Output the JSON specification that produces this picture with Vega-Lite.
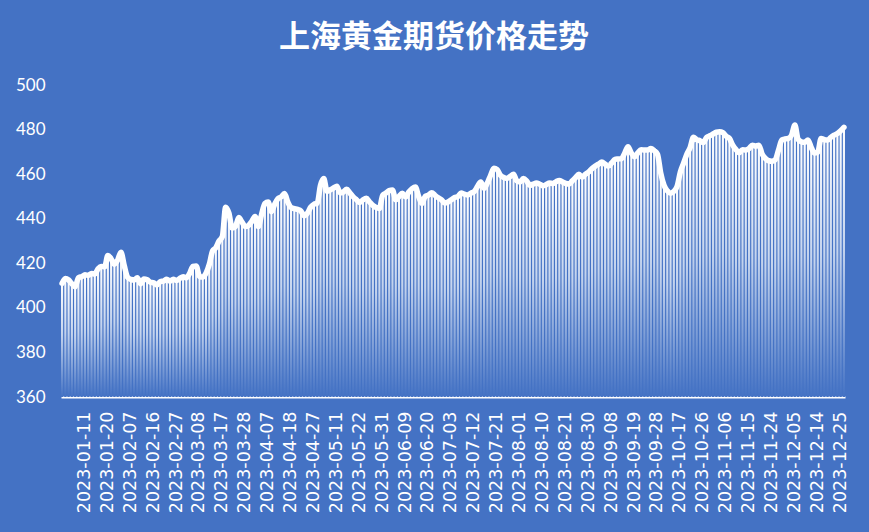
{
  "$schema": "https://vega.github.io/schema/vega-lite/v6.json",
  "autosize": "none",
  "width": 784,
  "height": 312,
  "padding": {"left": 61, "top": 85, "right": 24, "bottom": 135},
  "background": "#4472C4",
  "config": {"view": {"stroke": null}},
  "title": {
    "text": "上海黄金期货价格走势",
    "font": "Noto Sans CJK SC",
    "fontSize": 31,
    "fontWeight": "bold",
    "color": "#ffffff",
    "anchor": "middle",
    "dx": -19,
    "offset": 22
  },
  "data": {"values": [
    {"d":"2022-12-30","v":411.0},{"d":"2023-01-03","v":413.2},{"d":"2023-01-04","v":412.5},{"d":"2023-01-05","v":410.8},{"d":"2023-01-06","v":409.5},
    {"d":"2023-01-09","v":413.5},{"d":"2023-01-10","v":414.0},{"d":"2023-01-11","v":414.8},{"d":"2023-01-12","v":414.6},{"d":"2023-01-13","v":415.4},
    {"d":"2023-01-16","v":415.2},{"d":"2023-01-17","v":417.5},{"d":"2023-01-18","v":418.6},{"d":"2023-01-19","v":418.4},{"d":"2023-01-20","v":423.5},
    {"d":"2023-01-30","v":422.0},{"d":"2023-01-31","v":419.6},{"d":"2023-02-01","v":421.5},{"d":"2023-02-02","v":425.0},{"d":"2023-02-03","v":419.0},
    {"d":"2023-02-06","v":413.8},{"d":"2023-02-07","v":412.8},{"d":"2023-02-08","v":412.5},{"d":"2023-02-09","v":413.5},{"d":"2023-02-10","v":410.8},
    {"d":"2023-02-13","v":413.0},{"d":"2023-02-14","v":412.6},{"d":"2023-02-15","v":411.5},{"d":"2023-02-16","v":411.2},{"d":"2023-02-17","v":410.3},
    {"d":"2023-02-20","v":411.8},{"d":"2023-02-21","v":412.0},{"d":"2023-02-22","v":412.8},{"d":"2023-02-23","v":412.0},{"d":"2023-02-24","v":412.8},
    {"d":"2023-02-27","v":412.3},{"d":"2023-02-28","v":413.2},{"d":"2023-03-01","v":414.0},{"d":"2023-03-02","v":413.5},{"d":"2023-03-03","v":415.5},
    {"d":"2023-03-06","v":418.6},{"d":"2023-03-07","v":418.8},{"d":"2023-03-08","v":414.2},{"d":"2023-03-09","v":413.8},{"d":"2023-03-10","v":415.5},
    {"d":"2023-03-13","v":419.5},{"d":"2023-03-14","v":425.5},{"d":"2023-03-15","v":427.0},{"d":"2023-03-16","v":430.0},{"d":"2023-03-17","v":432.0},
    {"d":"2023-03-20","v":445.2},{"d":"2023-03-21","v":442.5},{"d":"2023-03-22","v":435.8},{"d":"2023-03-23","v":436.5},{"d":"2023-03-24","v":440.5},
    {"d":"2023-03-27","v":438.5},{"d":"2023-03-28","v":436.5},{"d":"2023-03-29","v":437.0},{"d":"2023-03-30","v":438.8},{"d":"2023-03-31","v":441.0},
    {"d":"2023-04-03","v":436.5},{"d":"2023-04-04","v":442.0},{"d":"2023-04-06","v":446.8},{"d":"2023-04-07","v":447.5},{"d":"2023-04-10","v":443.2},
    {"d":"2023-04-11","v":446.5},{"d":"2023-04-12","v":449.0},{"d":"2023-04-13","v":449.8},{"d":"2023-04-14","v":451.3},{"d":"2023-04-17","v":447.5},
    {"d":"2023-04-18","v":445.0},{"d":"2023-04-19","v":444.5},{"d":"2023-04-20","v":444.2},{"d":"2023-04-21","v":443.5},{"d":"2023-04-24","v":441.3},
    {"d":"2023-04-25","v":442.5},{"d":"2023-04-26","v":445.2},{"d":"2023-04-27","v":446.5},{"d":"2023-04-28","v":447.0},{"d":"2023-05-04","v":455.0},
    {"d":"2023-05-05","v":458.0},{"d":"2023-05-08","v":452.3},{"d":"2023-05-09","v":453.0},{"d":"2023-05-10","v":453.8},{"d":"2023-05-11","v":454.6},
    {"d":"2023-05-12","v":451.6},{"d":"2023-05-15","v":452.0},{"d":"2023-05-16","v":453.2},{"d":"2023-05-17","v":451.5},{"d":"2023-05-18","v":449.8},
    {"d":"2023-05-19","v":448.5},{"d":"2023-05-22","v":447.3},{"d":"2023-05-23","v":448.5},{"d":"2023-05-24","v":449.2},{"d":"2023-05-25","v":447.5},
    {"d":"2023-05-26","v":446.0},{"d":"2023-05-29","v":445.0},{"d":"2023-05-30","v":444.6},{"d":"2023-05-31","v":450.5},{"d":"2023-06-01","v":451.5},
    {"d":"2023-06-02","v":452.6},{"d":"2023-06-05","v":452.9},{"d":"2023-06-06","v":448.5},{"d":"2023-06-07","v":450.0},{"d":"2023-06-08","v":451.4},
    {"d":"2023-06-09","v":449.8},{"d":"2023-06-12","v":452.0},{"d":"2023-06-13","v":453.5},{"d":"2023-06-14","v":454.2},{"d":"2023-06-15","v":450.0},
    {"d":"2023-06-16","v":446.8},{"d":"2023-06-19","v":450.0},{"d":"2023-06-20","v":450.6},{"d":"2023-06-21","v":451.7},{"d":"2023-06-26","v":450.5},
    {"d":"2023-06-27","v":449.4},{"d":"2023-06-28","v":448.5},{"d":"2023-06-29","v":447.0},{"d":"2023-06-30","v":447.5},{"d":"2023-07-03","v":448.5},
    {"d":"2023-07-04","v":449.5},{"d":"2023-07-05","v":450.0},{"d":"2023-07-06","v":451.5},{"d":"2023-07-07","v":451.0},{"d":"2023-07-10","v":450.6},
    {"d":"2023-07-11","v":451.5},{"d":"2023-07-12","v":452.2},{"d":"2023-07-13","v":454.5},{"d":"2023-07-14","v":456.5},{"d":"2023-07-17","v":453.6},
    {"d":"2023-07-18","v":456.0},{"d":"2023-07-19","v":459.5},{"d":"2023-07-20","v":462.6},{"d":"2023-07-21","v":462.0},{"d":"2023-07-24","v":459.5},
    {"d":"2023-07-25","v":458.5},{"d":"2023-07-26","v":458.1},{"d":"2023-07-27","v":459.0},{"d":"2023-07-28","v":460.0},{"d":"2023-07-31","v":457.0},
    {"d":"2023-08-01","v":456.5},{"d":"2023-08-02","v":458.0},{"d":"2023-08-03","v":457.0},{"d":"2023-08-04","v":455.0},{"d":"2023-08-07","v":455.5},
    {"d":"2023-08-08","v":456.0},{"d":"2023-08-09","v":455.5},{"d":"2023-08-10","v":454.8},{"d":"2023-08-11","v":455.3},{"d":"2023-08-14","v":456.0},
    {"d":"2023-08-15","v":455.8},{"d":"2023-08-16","v":456.6},{"d":"2023-08-17","v":457.2},{"d":"2023-08-18","v":456.5},{"d":"2023-08-21","v":455.8},
    {"d":"2023-08-22","v":455.6},{"d":"2023-08-23","v":457.0},{"d":"2023-08-24","v":458.5},{"d":"2023-08-25","v":460.0},{"d":"2023-08-28","v":458.6},
    {"d":"2023-08-29","v":460.0},{"d":"2023-08-30","v":461.0},{"d":"2023-08-31","v":462.5},{"d":"2023-09-01","v":463.6},{"d":"2023-09-04","v":464.5},
    {"d":"2023-09-05","v":465.5},{"d":"2023-09-06","v":464.5},{"d":"2023-09-07","v":463.6},{"d":"2023-09-08","v":465.0},{"d":"2023-09-11","v":466.6},
    {"d":"2023-09-12","v":466.8},{"d":"2023-09-13","v":467.0},{"d":"2023-09-14","v":469.5},{"d":"2023-09-15","v":472.3},{"d":"2023-09-18","v":469.5},
    {"d":"2023-09-19","v":467.8},{"d":"2023-09-20","v":469.5},{"d":"2023-09-21","v":471.0},{"d":"2023-09-22","v":470.8},{"d":"2023-09-25","v":470.8},
    {"d":"2023-09-26","v":471.5},{"d":"2023-09-27","v":470.5},{"d":"2023-09-28","v":469.0},{"d":"2023-10-09","v":460.5},{"d":"2023-10-10","v":455.0},
    {"d":"2023-10-11","v":452.5},{"d":"2023-10-12","v":451.4},{"d":"2023-10-13","v":452.3},{"d":"2023-10-16","v":454.5},{"d":"2023-10-17","v":461.0},
    {"d":"2023-10-18","v":465.0},{"d":"2023-10-19","v":469.0},{"d":"2023-10-20","v":472.0},{"d":"2023-10-23","v":476.5},{"d":"2023-10-24","v":475.5},
    {"d":"2023-10-25","v":475.0},{"d":"2023-10-26","v":474.2},{"d":"2023-10-27","v":476.5},{"d":"2023-10-30","v":477.2},{"d":"2023-10-31","v":478.0},
    {"d":"2023-11-01","v":478.8},{"d":"2023-11-02","v":479.0},{"d":"2023-11-03","v":478.6},{"d":"2023-11-06","v":477.0},{"d":"2023-11-07","v":476.0},
    {"d":"2023-11-08","v":473.0},{"d":"2023-11-09","v":471.0},{"d":"2023-11-10","v":469.6},{"d":"2023-11-13","v":471.0},{"d":"2023-11-14","v":470.8},
    {"d":"2023-11-15","v":471.5},{"d":"2023-11-16","v":473.0},{"d":"2023-11-17","v":472.6},{"d":"2023-11-20","v":473.0},{"d":"2023-11-21","v":469.0},
    {"d":"2023-11-22","v":467.0},{"d":"2023-11-23","v":466.0},{"d":"2023-11-24","v":465.8},{"d":"2023-11-27","v":466.5},{"d":"2023-11-28","v":470.8},
    {"d":"2023-11-29","v":475.3},{"d":"2023-11-30","v":475.8},{"d":"2023-12-01","v":476.0},{"d":"2023-12-04","v":477.5},{"d":"2023-12-05","v":482.0},
    {"d":"2023-12-06","v":475.6},{"d":"2023-12-07","v":474.5},{"d":"2023-12-08","v":474.3},{"d":"2023-12-11","v":475.3},{"d":"2023-12-12","v":472.0},
    {"d":"2023-12-13","v":469.5},{"d":"2023-12-14","v":469.8},{"d":"2023-12-15","v":476.0},{"d":"2023-12-18","v":475.5},{"d":"2023-12-19","v":475.3},
    {"d":"2023-12-20","v":476.5},{"d":"2023-12-21","v":477.5},{"d":"2023-12-22","v":478.2},{"d":"2023-12-25","v":479.5},{"d":"2023-12-26","v":481.0}
  ]},
  "encoding": {
    "x": {
      "field": "d",
      "type": "ordinal",
      "sort": null,
      "scale": {"paddingInner": 0.35, "paddingOuter": 0},
      "axis": {
        "title": null,
        "values": ["2023-01-11","2023-01-20","2023-02-07","2023-02-16","2023-02-27","2023-03-08","2023-03-17","2023-03-28","2023-04-07","2023-04-18","2023-04-27","2023-05-11","2023-05-22","2023-05-31","2023-06-09","2023-06-20","2023-07-03","2023-07-12","2023-07-21","2023-08-01","2023-08-10","2023-08-21","2023-08-30","2023-09-08","2023-09-19","2023-09-28","2023-10-17","2023-10-26","2023-11-06","2023-11-15","2023-11-24","2023-12-05","2023-12-14","2023-12-25"],
        "labelAngle": -90,
        "labelFont": "DejaVu Sans",
        "labelFontSize": 17.5,
        "labelColor": "#ffffff",
        "labelPadding": 14,
        "labelOverlap": false,
        "ticks": false,
        "domainColor": "#ffffff",
        "domainWidth": 2,
        "grid": false
      }
    },
    "y": {
      "field": "v",
      "type": "quantitative",
      "scale": {"domain": [360, 500], "zero": false, "nice": false},
      "axis": {
        "title": null,
        "values": [360, 380, 400, 420, 440, 460, 480, 500],
        "labelFont": "Lato",
        "labelFontSize": 17,
        "labelColor": "#ffffff",
        "labelPadding": 16,
        "ticks": false,
        "domain": false,
        "grid": false
      }
    }
  },
  "layer": [
    {
      "mark": {
        "type": "bar",
        "color": {
          "gradient": "linear",
          "x1": 0, "y1": 0, "x2": 0, "y2": 1,
          "stops": [
            {"offset": 0, "color": "#ffffff"},
            {"offset": 0.45, "color": "#c3d3ee"},
            {"offset": 1, "color": "#4472C4"}
          ]
        }
      },
      "encoding": {"y2": {"datum": 360}}
    },
    {
      "mark": {
        "type": "line",
        "color": "#ffffff",
        "strokeWidth": 5.5,
        "interpolate": "monotone",
        "strokeCap": "round",
        "strokeJoin": "round"
      }
    }
  ]
}
